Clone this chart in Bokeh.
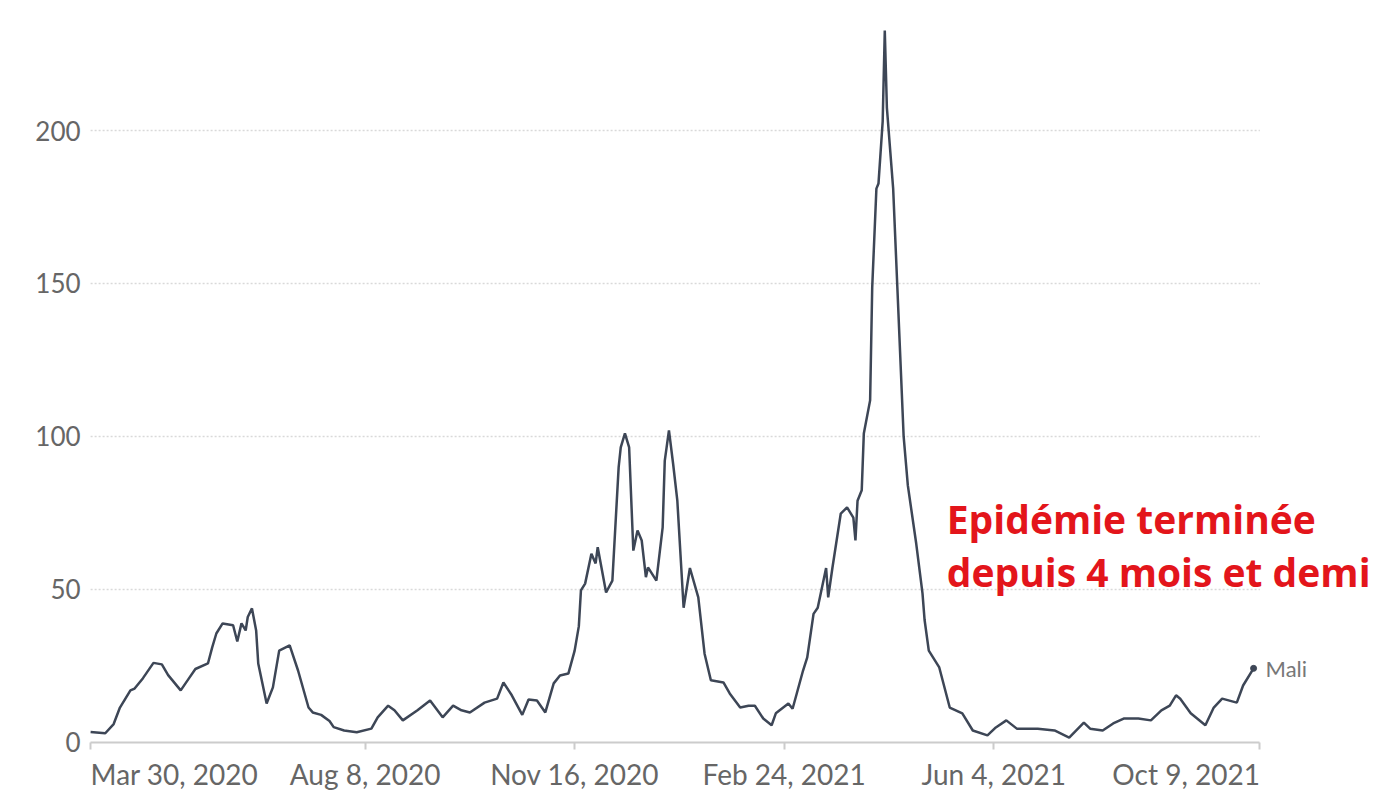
from datetime import datetime
import pandas as pd
from bokeh.plotting import figure
from bokeh.models import (Range1d, FixedTicker, CustomJSTickFormatter, Label,
                          ColumnDataSource, DatetimeAxis, LinearAxis)
from bokeh.embed import file_html
from bokeh.resources import INLINE

# ---------------- data ----------------
dates = [
    "2020-03-30", "2020-04-06", "2020-04-10", "2020-04-13", "2020-04-18", "2020-04-20",
    "2020-04-24", "2020-04-29", "2020-05-03", "2020-05-06", "2020-05-12", "2020-05-16",
    "2020-05-19", "2020-05-25", "2020-05-27", "2020-05-29", "2020-06-01", "2020-06-06",
    "2020-06-08", "2020-06-10", "2020-06-12", "2020-06-13", "2020-06-15", "2020-06-17",
    "2020-06-18", "2020-06-22", "2020-06-25", "2020-06-28", "2020-07-03", "2020-07-07",
    "2020-07-12", "2020-07-14", "2020-07-18", "2020-07-22", "2020-07-24", "2020-07-29",
    "2020-08-04", "2020-08-11", "2020-08-14", "2020-08-19", "2020-08-22", "2020-08-26",
    "2020-09-02", "2020-09-08", "2020-09-14", "2020-09-19", "2020-09-23", "2020-09-27",
    "2020-10-04", "2020-10-10", "2020-10-13", "2020-10-17", "2020-10-22", "2020-10-25",
    "2020-10-29", "2020-11-02", "2020-11-06", "2020-11-09", "2020-11-13", "2020-11-16",
    "2020-11-18", "2020-11-19", "2020-11-21", "2020-11-24", "2020-11-26", "2020-11-27",
    "2020-12-01", "2020-12-04", "2020-12-07", "2020-12-08", "2020-12-10", "2020-12-12",
    "2020-12-14", "2020-12-16", "2020-12-18", "2020-12-20", "2020-12-21", "2020-12-25",
    "2020-12-28", "2020-12-29", "2020-12-31", "2021-01-02", "2021-01-04", "2021-01-07",
    "2021-01-10", "2021-01-14", "2021-01-17", "2021-01-20", "2021-01-26", "2021-01-29",
    "2021-02-03", "2021-02-07", "2021-02-10", "2021-02-14", "2021-02-18", "2021-02-20",
    "2021-02-26", "2021-02-28", "2021-03-02", "2021-03-05", "2021-03-07", "2021-03-10",
    "2021-03-12", "2021-03-16", "2021-03-17", "2021-03-19", "2021-03-23", "2021-03-26",
    "2021-03-29", "2021-03-30", "2021-03-31", "2021-04-02", "2021-04-03", "2021-04-06",
    "2021-04-07", "2021-04-09", "2021-04-10", "2021-04-12", "2021-04-13", "2021-04-14",
    "2021-04-17", "2021-04-19", "2021-04-22", "2021-04-24", "2021-04-28", "2021-05-01",
    "2021-05-02", "2021-05-04", "2021-05-09", "2021-05-14", "2021-05-20", "2021-05-25",
    "2021-06-01", "2021-06-05", "2021-06-10", "2021-06-15", "2021-06-25", "2021-07-03",
    "2021-07-10", "2021-07-17", "2021-07-20", "2021-07-26", "2021-07-31", "2021-08-05",
    "2021-08-12", "2021-08-18", "2021-08-23", "2021-08-27", "2021-08-30", "2021-09-01",
    "2021-09-06", "2021-09-13", "2021-09-17", "2021-09-21", "2021-09-28", "2021-10-01",
    "2021-10-06",
]
mali_cases = [
    3.4, 3.0, 6.0, 11.4, 17.0, 17.6,
    21.0, 26.0, 25.5, 22.0, 17.0, 21.0,
    24.0, 25.8, 31.0, 35.6, 38.9, 38.3,
    33.0, 38.9, 36.6, 41.0, 43.8, 36.6,
    25.8, 12.7, 18.0, 30.0, 31.7, 23.5,
    11.4, 9.8, 9.0, 7.0, 5.0, 3.9,
    3.3, 4.5, 8.2, 12.0, 10.5, 7.2,
    10.5, 13.7, 8.2, 12.0, 10.5, 9.8,
    13.0, 14.3, 19.6, 15.4, 9.0, 14.0,
    13.7, 9.8, 19.3, 21.9, 22.5, 30.0,
    38.0, 49.7, 51.9, 61.7, 58.5, 63.8,
    49.0, 52.9, 90.0, 96.4, 101.0, 96.4,
    62.7, 69.3, 66.0, 54.0, 57.2, 52.9,
    70.3, 92.0, 102.0, 91.0, 79.0, 44.0,
    57.0, 47.4, 29.0, 20.3, 19.6, 16.0,
    11.4, 12.0, 12.0, 7.8, 5.6, 9.5,
    12.7, 11.0, 16.0, 23.5, 27.8, 42.0,
    44.0, 57.0, 47.4, 57.0, 74.8, 76.8,
    73.5, 66.0, 79.0, 82.4, 101.0, 111.8,
    148.7, 181.0, 182.7, 203.0, 232.7, 207.5,
    181.0, 148.7, 100.0, 84.0, 65.0, 48.7,
    40.0, 30.0, 24.5, 11.4, 9.5, 3.9,
    2.3, 4.9, 7.2, 4.5, 4.5, 3.9,
    1.6, 6.5, 4.5, 3.9, 6.2, 7.8,
    7.8, 7.2, 10.5, 12.0, 15.4, 14.3,
    9.5, 5.6, 11.4, 14.3, 13.0, 18.6,
    24.2,
]
series_name = "Mali"
x_tick_dates = ["2020-03-30", "2020-08-08", "2020-11-16", "2021-02-24", "2021-06-04", "2021-10-09"]
y_ticks = [0, 50, 100, 150, 200]
annotation_lines = ["Epidémie terminée", "depuis 4 mois et demi"]

# ---------------- helpers ----------------
def ms(ts):
    return (pd.Timestamp(ts) - pd.Timestamp("1970-01-01")).total_seconds() * 1000.0

def fmt_date(ts):
    t = pd.Timestamp(ts)
    return f"{t.strftime('%b')} {t.day}, {t.year}"

x = pd.to_datetime(dates)
src = ColumnDataSource(dict(x=x, y=mali_cases))

x_start = pd.Timestamp(x_tick_dates[0])
x_end = pd.Timestamp(x_tick_dates[-1])

# the frame covers the whole canvas so that outer texts are not clipped;
# axes are pinned at y=0 and at the first date
view_x = (pd.Timestamp("2020-02-16"), pd.Timestamp("2021-12-07"))
view_y = (-16.7, 242.5)

p = figure(width=1383, height=793,
           x_range=Range1d(*view_x), y_range=Range1d(*view_y),
           x_axis_type=None, y_axis_type=None,
           output_backend="svg", toolbar_location=None, min_border=0)
p.outline_line_color = None
p.background_fill_color = "white"
p.border_fill_color = "white"
p.xgrid.visible = False
p.ygrid.visible = False

LABEL_FONT = "Lato"
LABEL_COLOR = "#666666"
X_FS = "28px"
Y_FS = "26px"
GRID_COLOR = "#d9d9d9"
AXIS_COLOR = "#cccccc"
LINE_COLOR = "#3d4656"

# horizontal dotted grid lines, limited to the data period
grid_y = y_ticks[1:]
p.segment(x0=[x_start] * len(grid_y), y0=grid_y, x1=[x_end] * len(grid_y), y1=grid_y,
          line_color=GRID_COLOR, line_dash="2 2", line_width=1.5)

# x axis
xa = DatetimeAxis(fixed_location=0, bounds=(ms(x_start), ms(x_end)))
xa.ticker = FixedTicker(ticks=[ms(d) for d in x_tick_dates[1:-1]],
                        minor_ticks=[ms(x_tick_dates[0]), ms(x_tick_dates[-1])])
xa.formatter = CustomJSTickFormatter(code="""
const m = ["Jan","Feb","Mar","Apr","May","Jun","Jul","Aug","Sep","Oct","Nov","Dec"];
const d = new Date(tick);
return m[d.getUTCMonth()] + " " + d.getUTCDate() + ", " + d.getUTCFullYear();
""")
xa.axis_line_color = AXIS_COLOR
xa.axis_line_width = 2
xa.major_tick_line_color = AXIS_COLOR
xa.minor_tick_line_color = AXIS_COLOR
xa.major_tick_line_width = 2
xa.minor_tick_line_width = 2
xa.major_tick_out = 7
xa.major_tick_in = 0
xa.minor_tick_out = 7
xa.minor_tick_in = 0
xa.major_label_standoff = 8
xa.major_label_text_font = LABEL_FONT
xa.major_label_text_font_size = X_FS
xa.major_label_text_color = LABEL_COLOR
p.add_layout(xa, "below")

# y axis
ya = LinearAxis(fixed_location=ms(x_start))
ya.ticker = FixedTicker(ticks=y_ticks)
ya.axis_line_color = None
ya.major_tick_line_color = None
ya.minor_tick_line_color = None
ya.major_tick_out = 0
ya.major_tick_in = 0
ya.major_label_standoff = 10
ya.major_label_text_font = LABEL_FONT
ya.major_label_text_font_size = Y_FS
ya.major_label_text_color = LABEL_COLOR
p.add_layout(ya, "left")

# first/last x labels (left / right aligned like the reference)
p.add_layout(Label(x=x_start, y=0, y_offset=-15, text=fmt_date(x_tick_dates[0]),
                   text_align="left", text_baseline="top",
                   text_font=LABEL_FONT, text_font_size=X_FS, text_color=LABEL_COLOR))
p.add_layout(Label(x=x_end, y=0, y_offset=-15, text=fmt_date(x_tick_dates[-1]),
                   text_align="right", text_baseline="top",
                   text_font=LABEL_FONT, text_font_size=X_FS, text_color=LABEL_COLOR))

# series line
p.line("x", "y", source=src, line_color=LINE_COLOR, line_width=2.5)
p.scatter(x=[x[-1]], y=[mali_cases[-1]], size=6, color=LINE_COLOR)
p.add_layout(Label(x=x[-1], y=mali_cases[-1], x_offset=12, text=series_name,
                   text_baseline="middle", text_font=LABEL_FONT, text_font_size="22px",
                   text_color="#777777"))

# red annotation
ann_x = datetime(2021, 5, 12, 14)
for txt, yy in zip(annotation_lines, [73.2, 55.9]):
    p.add_layout(Label(x=ann_x, y=yy, text=txt, text_baseline="alphabetic",
                       text_font="Open Sans", text_font_style="bold", text_font_size="39px",
                       text_color="#e3151b"))

open("out.html", "w").write(file_html(p, INLINE))
